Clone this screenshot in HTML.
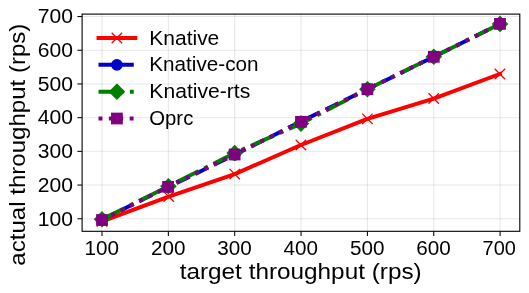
<!DOCTYPE html>
<html><head><meta charset="utf-8"><title>throughput</title>
<style>
html,body{margin:0;padding:0;background:#fff;}
svg{display:block;will-change:transform;}
text{font-family:"Liberation Sans",sans-serif;fill:#000;}
</style></head><body>
<svg width="529" height="293" viewBox="0 0 529 293">
<rect width="529" height="293" fill="#fff"/>
<g stroke="#b0b0b0" stroke-opacity="0.3" stroke-width="1.04" fill="none">
<line x1="102.00" y1="14.10" x2="102.00" y2="231.30"/>
<line x1="168.35" y1="14.10" x2="168.35" y2="231.30"/>
<line x1="234.70" y1="14.10" x2="234.70" y2="231.30"/>
<line x1="301.05" y1="14.10" x2="301.05" y2="231.30"/>
<line x1="367.40" y1="14.10" x2="367.40" y2="231.30"/>
<line x1="433.75" y1="14.10" x2="433.75" y2="231.30"/>
<line x1="500.10" y1="14.10" x2="500.10" y2="231.30"/>
<line x1="82.10" y1="218.75" x2="519.80" y2="218.75"/>
<line x1="82.10" y1="185.05" x2="519.80" y2="185.05"/>
<line x1="82.10" y1="151.35" x2="519.80" y2="151.35"/>
<line x1="82.10" y1="117.65" x2="519.80" y2="117.65"/>
<line x1="82.10" y1="83.95" x2="519.80" y2="83.95"/>
<line x1="82.10" y1="50.25" x2="519.80" y2="50.25"/>
<line x1="82.10" y1="16.55" x2="519.80" y2="16.55"/>
</g>
<defs><clipPath id="c"><rect x="82.10" y="14.10" width="437.70" height="217.20"/></clipPath></defs>
<g clip-path="url(#c)" fill="none" stroke-linejoin="round">
<polyline points="102.00,221.40 168.70,196.60 234.70,174.10 300.90,144.96 367.40,118.85 433.70,98.55 499.90,73.96" stroke="#ff0000" stroke-width="3.92" stroke-linecap="square"/>
<g stroke="#ff0000" stroke-width="1.30" stroke-linecap="butt"><path d="M96.78 216.18L107.22 226.62M96.78 226.62L107.22 216.18"/><path d="M163.48 191.38L173.92 201.82M163.48 201.82L173.92 191.38"/><path d="M229.48 168.88L239.92 179.32M229.48 179.32L239.92 168.88"/><path d="M295.68 139.74L306.12 150.18M295.68 150.18L306.12 139.74"/><path d="M362.18 113.63L372.62 124.07M362.18 124.07L372.62 113.63"/><path d="M428.48 93.33L438.92 103.77M428.48 103.77L438.92 93.33"/><path d="M494.68 68.74L505.12 79.18M494.68 79.18L505.12 68.74"/></g>
<polyline points="102.00,219.60 168.20,187.00 234.70,154.80 301.00,121.50 367.40,89.20 433.80,56.80 500.00,23.90" stroke="#0000cd" stroke-width="3.92" stroke-linecap="butt" stroke-dasharray="14.50 6.27"/>
<g fill="#0000cd" stroke="#0000cd" stroke-width="1.30" stroke-linejoin="miter"><circle cx="102.00" cy="219.60" r="5.22"/><circle cx="168.20" cy="187.00" r="5.22"/><circle cx="234.70" cy="154.80" r="5.22"/><circle cx="301.00" cy="121.50" r="5.22"/><circle cx="367.40" cy="89.20" r="5.22"/><circle cx="433.80" cy="56.80" r="5.22"/><circle cx="500.00" cy="23.90" r="5.22"/></g>
<polyline points="102.00,219.30 168.40,186.30 234.70,153.00 301.00,123.60 367.40,89.20 433.80,56.80 500.00,23.90" stroke="#008000" stroke-width="3.92" stroke-linecap="butt" stroke-dasharray="25.09 6.27 3.92 6.27"/>
<g fill="#008000" stroke="#008000" stroke-width="1.30" stroke-linejoin="miter"><path d="M102.00 211.91L109.39 219.30L102.00 226.69L94.61 219.30Z"/><path d="M168.40 178.91L175.79 186.30L168.40 193.69L161.01 186.30Z"/><path d="M234.70 145.61L242.09 153.00L234.70 160.39L227.31 153.00Z"/><path d="M301.00 116.21L308.39 123.60L301.00 130.99L293.61 123.60Z"/><path d="M367.40 81.81L374.79 89.20L367.40 96.59L360.01 89.20Z"/><path d="M433.80 49.41L441.19 56.80L433.80 64.19L426.41 56.80Z"/><path d="M500.00 16.51L507.39 23.90L500.00 31.29L492.61 23.90Z"/></g>
<polyline points="102.00,220.00 168.10,186.80 234.60,154.50 301.00,121.80 367.40,89.15 433.80,56.80 500.00,23.90" stroke="#800080" stroke-width="3.92" stroke-linecap="butt" stroke-dasharray="3.92 6.47"/>
<g fill="#800080" stroke="#800080" stroke-width="1.30" stroke-linejoin="miter"><rect x="96.78" y="214.78" width="10.45" height="10.45"/><rect x="162.88" y="181.58" width="10.45" height="10.45"/><rect x="229.38" y="149.28" width="10.45" height="10.45"/><rect x="295.77" y="116.58" width="10.45" height="10.45"/><rect x="362.17" y="83.93" width="10.45" height="10.45"/><rect x="428.57" y="51.57" width="10.45" height="10.45"/><rect x="494.77" y="18.67" width="10.45" height="10.45"/></g>
</g>
<rect x="82.10" y="14.10" width="437.70" height="217.20" fill="none" stroke="#000" stroke-width="1.1"/>
<g stroke="#000" stroke-width="1.04">
<line x1="102.00" y1="231.30" x2="102.00" y2="236.00"/>
<line x1="168.35" y1="231.30" x2="168.35" y2="236.00"/>
<line x1="234.70" y1="231.30" x2="234.70" y2="236.00"/>
<line x1="301.05" y1="231.30" x2="301.05" y2="236.00"/>
<line x1="367.40" y1="231.30" x2="367.40" y2="236.00"/>
<line x1="433.75" y1="231.30" x2="433.75" y2="236.00"/>
<line x1="500.10" y1="231.30" x2="500.10" y2="236.00"/>
<line x1="77.40" y1="218.75" x2="82.10" y2="218.75"/>
<line x1="77.40" y1="185.05" x2="82.10" y2="185.05"/>
<line x1="77.40" y1="151.35" x2="82.10" y2="151.35"/>
<line x1="77.40" y1="117.65" x2="82.10" y2="117.65"/>
<line x1="77.40" y1="83.95" x2="82.10" y2="83.95"/>
<line x1="77.40" y1="50.25" x2="82.10" y2="50.25"/>
<line x1="77.40" y1="16.55" x2="82.10" y2="16.55"/>
</g>
<g font-size="19.6">
<text x="101.80" y="255" text-anchor="middle" textLength="34.5" lengthAdjust="spacingAndGlyphs">100</text>
<text x="168.15" y="255" text-anchor="middle" textLength="34.5" lengthAdjust="spacingAndGlyphs">200</text>
<text x="234.50" y="255" text-anchor="middle" textLength="34.5" lengthAdjust="spacingAndGlyphs">300</text>
<text x="300.85" y="255" text-anchor="middle" textLength="34.5" lengthAdjust="spacingAndGlyphs">400</text>
<text x="367.20" y="255" text-anchor="middle" textLength="34.5" lengthAdjust="spacingAndGlyphs">500</text>
<text x="433.55" y="255" text-anchor="middle" textLength="34.5" lengthAdjust="spacingAndGlyphs">600</text>
<text x="499.20" y="255" text-anchor="middle" textLength="33.3" lengthAdjust="spacingAndGlyphs">700</text>
<text x="73.0" y="225.55" text-anchor="end" textLength="35.2" lengthAdjust="spacingAndGlyphs">100</text>
<text x="73.0" y="191.85" text-anchor="end" textLength="35.2" lengthAdjust="spacingAndGlyphs">200</text>
<text x="73.0" y="158.15" text-anchor="end" textLength="35.2" lengthAdjust="spacingAndGlyphs">300</text>
<text x="73.0" y="124.45" text-anchor="end" textLength="35.2" lengthAdjust="spacingAndGlyphs">400</text>
<text x="73.0" y="90.75" text-anchor="end" textLength="35.2" lengthAdjust="spacingAndGlyphs">500</text>
<text x="73.0" y="57.05" text-anchor="end" textLength="35.2" lengthAdjust="spacingAndGlyphs">600</text>
<text x="73.0" y="23.35" text-anchor="end" textLength="35.2" lengthAdjust="spacingAndGlyphs">700</text>
</g>
<text x="300.7" y="279.4" font-size="22.6" text-anchor="middle" textLength="242" lengthAdjust="spacingAndGlyphs">target throughput (rps)</text>
<text transform="translate(25.3 144.65) rotate(-90)" font-size="22.6" text-anchor="middle" textLength="242" lengthAdjust="spacingAndGlyphs">actual throughput (rps)</text>
<g fill="none">
<line x1="98.50" y1="38.05" x2="135.30" y2="38.05" stroke="#ff0000" stroke-width="3.92" stroke-linecap="square"/>
<g stroke="#ff0000" stroke-width="1.30"><path d="M111.68 32.83L122.12 43.27M111.68 43.27L122.12 32.83"/></g>
<line x1="98.50" y1="64.80" x2="135.30" y2="64.80" stroke="#0000cd" stroke-width="3.92" stroke-dasharray="14.50 6.27"/>
<g fill="#0000cd" stroke="#0000cd" stroke-width="1.30"><circle cx="116.90" cy="64.80" r="5.22"/></g>
<line x1="98.50" y1="91.70" x2="135.30" y2="91.70" stroke="#008000" stroke-width="3.92" stroke-dasharray="25.09 6.27 3.92 6.27"/>
<g fill="#008000" stroke="#008000" stroke-width="1.30"><path d="M116.90 84.31L124.29 91.70L116.90 99.09L109.51 91.70Z"/></g>
<line x1="98.50" y1="118.50" x2="135.30" y2="118.50" stroke="#800080" stroke-width="3.92" stroke-dasharray="3.92 6.47"/>
<g fill="#800080" stroke="#800080" stroke-width="1.30"><rect x="111.68" y="113.28" width="10.45" height="10.45"/></g>
</g>
<g font-size="19.3">
<text x="149.3" y="44.60" textLength="70.0" lengthAdjust="spacingAndGlyphs">Knative</text>
<text x="149.3" y="71.20" textLength="109.3" lengthAdjust="spacingAndGlyphs">Knative-con</text>
<text x="149.3" y="98.00" textLength="101.0" lengthAdjust="spacingAndGlyphs">Knative-rts</text>
<text x="149.3" y="124.80" textLength="44.0" lengthAdjust="spacingAndGlyphs">Oprc</text>
</g>
</svg>
</body></html>
